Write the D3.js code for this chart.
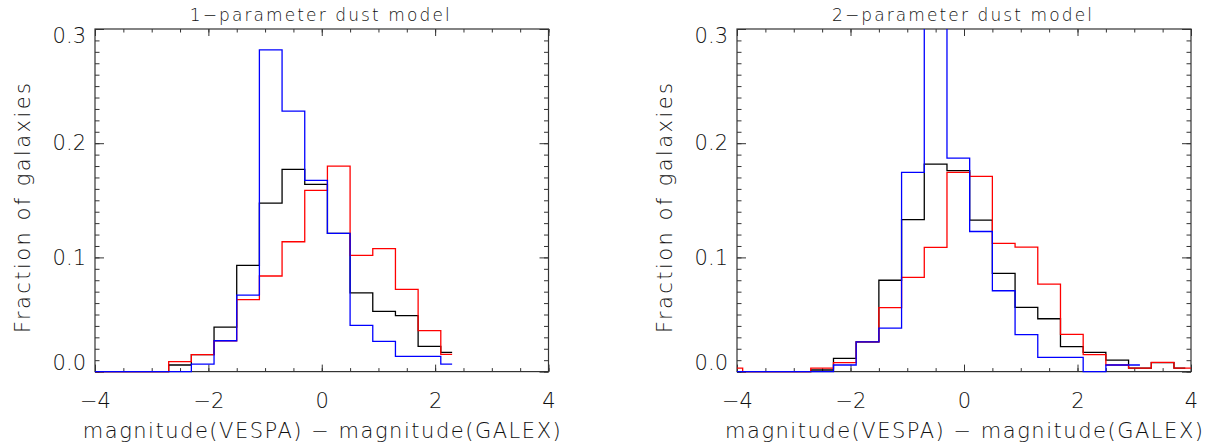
<!DOCTYPE html>
<html>
<head>
<meta charset="utf-8">
<script src="https://cdn.jsdelivr.net/npm/d3@7"></script>
<style>
  body { margin: 0; background: #fff; }
  text { font-family: 'DejaVu Sans', sans-serif; font-weight: 200; fill: #111; }
</style>
</head>
<body>
<svg id="chart" width="1211" height="448"></svg>
<script>
// bin centres of the step histograms (bin width 0.4)
const binCenters = [-4.1, -3.7, -3.3, -2.9, -2.5, -2.1, -1.7, -1.3, -0.9, -0.5, -0.1,
  0.3, 0.7, 1.1, 1.5, 1.9, 2.3, 2.7, 3.1, 3.5, 3.9, 4.3]

// 1-parameter dust model
const black1 = [0, 0, 0, 0, 0.0058, 0.0148, 0.039, 0.093, 0.1475, 0.177, 0.164, 0.121, 0.069, 0.0527, 0.049, 0.0221, 0.0169]
const red1 = [0, 0, 0, 0, 0.0087, 0.0148, 0.027, 0.063, 0.0837, 0.1137, 0.1587, 0.1799, 0.1017, 0.1076, 0.072, 0.0358, 0.0151]
const blue1 = [0, 0, 0, 0, 0, 0.0066, 0.027, 0.067, 0.2817, 0.228, 0.1674, 0.121, 0.0405, 0.0265, 0.0134, 0.0134, 0.0066]

// 2-parameter dust model
const black2 = [0, 0, 0, 0, 0.0014, 0.0116, 0.026, 0.080, 0.133, 0.1816, 0.176, 0.1326, 0.086, 0.0563, 0.0463, 0.0218, 0.0169, 0.0101, 0.003, 0.0078, 0.003]
const red2 = [0.003, 0, 0, 0, 0.003, 0.0078, 0.026, 0.056, 0.0825, 0.1087, 0.1744, 0.171, 0.1122, 0.109, 0.0766, 0.0326, 0.0148, 0.0058, 0.003, 0.0081, 0.003, 0.003]
const blue2 = [0, 0, 0, 0, 0, 0.0058, 0.026, 0.038, 0.1744, 0.32, 0.187, 0.1227, 0.0708, 0.0323, 0.0125, 0.0125, 0, 0.0058, 0.0058]

const xTickValues = [-4, -2, 0, 2, 4]
const yTickValues = [0, 0.1, 0.2, 0.3]
const titles = ['1\u2212parameter dust model', '2\u2212parameter dust model']
const xLabel = 'magnitude(VESPA) \u2212 magnitude(GALEX)'
const yLabel = 'Fraction of galaxies'

const svg = d3.select('#chart')

/**
 * Draws one histogram panel with its frame, ticks and labels.
 *
 * @param {object} panel Position and content of the panel
 */
function drawPanel (panel) {
  const x = d3.scaleLinear().domain([-4, 4]).range([panel.left, panel.right])
  const y = d3.scaleLinear().domain([0, 0.3]).range([371.6, 29])
  const g = svg.append('g')

  // clip a little below the frame so zero bins stay visible on the axis
  g.append('clipPath')
    .attr('id', panel.id)
    .append('rect')
    .attr('x', panel.left)
    .attr('y', 29)
    .attr('width', panel.right - panel.left)
    .attr('height', 373.2 - 29)

  g.append('rect')
    .attr('x', panel.left)
    .attr('y', 29)
    .attr('width', panel.right - panel.left)
    .attr('height', 371.6 - 29)
    .attr('fill', 'none')
    .attr('stroke', '#333')
    .attr('stroke-width', 1.2)

  // minor ticks
  const xMinor = d3.range(-4, 4.001, 0.5)
  const yMinor = d3.range(0, 0.3001, 0.01)
  g.append('g').attr('transform', `translate(0,${y(0)})`)
    .call(d3.axisBottom(x).tickValues(xMinor).tickSize(-3.5).tickFormat(''))
  g.append('g').attr('transform', `translate(0,${y(0.3)})`)
    .call(d3.axisTop(x).tickValues(xMinor).tickSize(-3.5).tickFormat(''))
  g.append('g').attr('transform', `translate(${panel.left},0)`)
    .call(d3.axisLeft(y).tickValues(yMinor).tickSize(-4.5).tickFormat(''))
  g.append('g').attr('transform', `translate(${panel.right},0)`)
    .call(d3.axisRight(y).tickValues(yMinor).tickSize(-4.5).tickFormat(''))

  // major ticks and labels
  g.append('g').attr('transform', `translate(0,${y(0)})`)
    .call(d3.axisBottom(x).tickValues(xTickValues).tickSize(-7).tickPadding(21).tickFormat(d3.format('d')))
  g.append('g').attr('transform', `translate(0,${y(0.3)})`)
    .call(d3.axisTop(x).tickValues(xTickValues).tickSize(-7).tickFormat(''))
  const yAxis = g.append('g').attr('transform', `translate(${panel.left},0)`)
    .call(d3.axisLeft(y).tickValues(yTickValues).tickSize(-9).tickPadding(9).tickFormat(d3.format('.1f')))
  g.append('g').attr('transform', `translate(${panel.right},0)`)
    .call(d3.axisRight(y).tickValues(yTickValues).tickSize(-9).tickFormat(''))

  // end labels sit inside the frame, like the original plot
  yAxis.selectAll('.tick text')
    .attr('dy', (d) => d === 0.3 ? '0.62em' : d === 0 ? '-0.1em' : '0.32em')

  g.selectAll('.domain').remove()
  g.selectAll('.tick line').attr('stroke', '#333')
  g.selectAll('.tick text')
    .attr('fill', '#111')
    .style('font-size', '21px')
    .style('font-family', "'DejaVu Sans', sans-serif")

  // histograms, drawn black then red then blue
  const line = d3.line()
    .x((d, i) => x(binCenters[i]))
    .y((d) => y(d))
    .curve(d3.curveStep)
  const lines = g.append('g').attr('clip-path', `url(#${panel.id})`)
  panel.series.forEach((s) => {
    lines.append('path')
      .attr('d', line(s.values))
      .attr('fill', 'none')
      .attr('stroke', s.color)
      .attr('stroke-width', 1.3)
  })

  const mid = (panel.left + panel.right) / 2
  g.append('text')
    .attr('x', mid - 2)
    .attr('y', 21)
    .attr('text-anchor', 'middle')
    .attr('textLength', 260)
    .attr('lengthAdjust', 'spacing')
    .style('font-size', '17px')
    .text(panel.title)

  g.append('text')
    .attr('x', mid)
    .attr('y', 438)
    .attr('text-anchor', 'middle')
    .attr('textLength', 478)
    .attr('lengthAdjust', 'spacing')
    .style('font-size', '21px')
    .text(xLabel)

  g.append('text')
    .attr('transform', `translate(${panel.yLabelX},208) rotate(-90)`)
    .attr('text-anchor', 'middle')
    .attr('textLength', 250)
    .attr('lengthAdjust', 'spacing')
    .style('font-size', '21px')
    .text(yLabel)
}

drawPanel({
  id: 'clip-left',
  left: 95,
  right: 548.5,
  yLabelX: 30,
  title: titles[0],
  series: [
    { values: black1, color: '#000' },
    { values: red1, color: '#ff0000' },
    { values: blue1, color: '#0000ff' }
  ]
})

drawPanel({
  id: 'clip-right',
  left: 737,
  right: 1191,
  yLabelX: 672,
  title: titles[1],
  series: [
    { values: black2, color: '#000' },
    { values: red2, color: '#ff0000' },
    { values: blue2, color: '#0000ff' }
  ]
})
</script>
</body>
</html>
